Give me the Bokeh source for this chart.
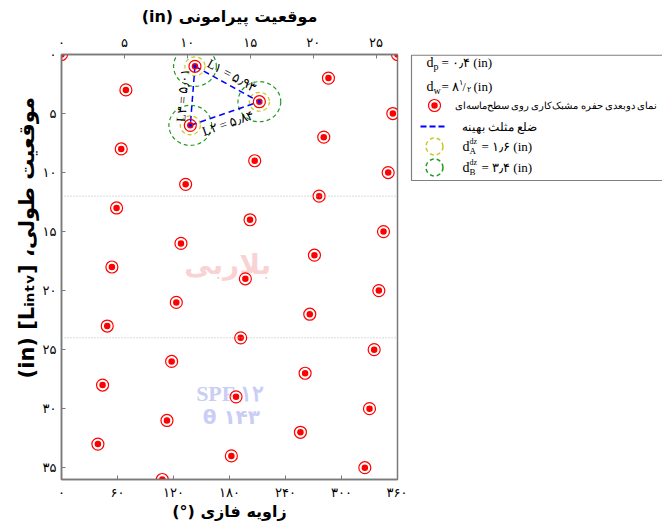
import math
from bokeh.plotting import figure
from bokeh.models import Range1d, LinearAxis, FixedTicker, Span
from bokeh.layouts import row
from bokeh.core.properties import value
from bokeh.embed import file_html
from bokeh.resources import INLINE

# ---------------- data ----------------
shot_angle = [0, 143, 286, 69, 212, 355, 138, 281, 64, 207, 350, 133, 276, 59, 202,
              345, 128, 271, 54, 197, 340, 123, 266, 49, 192, 335, 118, 261, 44, 187,
              330, 113, 256, 39, 182, 325, 108]
shot_depth = [0, 1, 2, 3, 4, 5, 6, 7, 8, 9, 10, 11, 12, 13, 14, 15, 16, 17, 18, 19,
              20, 21, 22, 23, 24, 25, 26, 27, 28, 29, 30, 31, 32, 33, 34, 35, 36]
wrap_angle = [360]
wrap_depth = [0]

tri_angle = [143, 212, 138]
tri_depth = [1, 4, 6]
side_from = [0, 2, 2]
side_to = [1, 1, 0]
side_labels = ["L۱ = ۵٫۹۳", "L۲ = ۵٫۸۴", "L۳ = ۵٫۰۱"]

section_depth = [12, 24]
well_diam = 8.5      # in
d_A = 1.6            # in
d_B = 3.4            # in

x_ticks = [0, 60, 120, 180, 240, 300, 360]
x_tick_labels = ["۰", "۶۰", "۱۲۰", "۱۸۰", "۲۴۰", "۳۰۰", "۳۶۰"]
top_ticks = [0, 5, 10, 15, 20, 25]
top_tick_labels = ["۰", "۵", "۱۰", "۱۵", "۲۰", "۲۵"]
y_ticks = [0, 5, 10, 15, 20, 25, 30, 35]
y_tick_labels = ["۰", "۵", "۱۰", "۱۵", "۲۰", "۲۵", "۳۰", "۳۵"]

# ---------------- layout constants ----------------
FW, FH = 336, 425
X_MAX, Y_MAX = 360, 36
B_TOP, B_BOT, B_LEFT, B_RIGHT = 54, 42, 61, 10
perimeter = math.pi * well_diam

p = figure(frame_width=FW, frame_height=FH,
           x_range=Range1d(0, X_MAX), y_range=Range1d(Y_MAX, 0),
           output_backend="svg", toolbar_location=None,
           min_border_left=B_LEFT, min_border_right=B_RIGHT,
           min_border_top=B_TOP, min_border_bottom=B_BOT,
           background_fill_color="white", border_fill_color="white")
p.grid.visible = False
p.outline_line_color = "#7a7a7a"
p.outline_line_width = 1.5
p.extra_x_ranges = {"perim": Range1d(0, perimeter)}

top = LinearAxis(x_range_name="perim")
p.add_layout(top, "above")

FONT_T = value("DejaVu Sans")


def style_axis(ax, ticks, labels, title, lab_standoff, title_standoff, title_size):
    ax.ticker = FixedTicker(ticks=ticks)
    ax.major_label_overrides = {t: l for t, l in zip(ticks, labels)}
    ax.minor_tick_line_color = None
    ax.major_tick_in = 4
    ax.major_tick_out = 0
    ax.major_tick_line_color = "#7a7a7a"
    ax.axis_line_color = "#7a7a7a"
    ax.axis_line_width = 1.5
    ax.major_label_text_font = "DejaVu Sans"
    ax.major_label_text_font_size = "13px"
    ax.major_label_text_color = "black"
    ax.major_label_standoff = lab_standoff
    ax.axis_label = title
    ax.axis_label_text_font = "DejaVu Sans"
    ax.axis_label_text_font_size = title_size
    ax.axis_label_text_font_style = "bold"
    ax.axis_label_text_color = "black"
    ax.axis_label_standoff = title_standoff


style_axis(p.below[0], x_ticks, x_tick_labels, "(°) زاویه فازی", 5, -1, "16px")
style_axis(top, top_ticks, top_tick_labels, "(in) موقعیت پیرامونی", 5, 6, "16px")
style_axis(p.left[0], y_ticks, y_tick_labels,
           "\u00a0" * 8 + "(in) [Lᵢₙₜᵥ] ،موقعیت طولی", 5, 1, "21px")

# section lines
for d in section_depth:
    p.add_layout(Span(location=d, dimension="width", line_color="#b5b5b5",
                      line_dash="1 2", line_width=1))

# watermarks
p.text(x=[178], y=[17.8], text=["بلاربی"], text_font=FONT_T, text_font_style="bold",
       text_font_size="28px", text_color="#f9d3d3", text_align="center", text_baseline="middle")
p.text(x=[181], y=[28.7], text=["SPF ۱۲"], text_font=value("Liberation Serif"), text_font_style="bold",
       text_font_size="22px", text_color="#cacdf5", text_align="center", text_baseline="middle")
p.text(x=[182], y=[30.7], text=["θ ۱۴۳"], text_font=FONT_T, text_font_style="bold",
       text_font_size="20px", text_color="#cacdf5", text_align="center", text_baseline="middle")

# circles around triangle vertices (drawn in perimeter inches)
tri_perim = [a / 360 * perimeter for a in tri_angle]
p.ellipse(x=tri_perim, y=tri_depth, width=d_B, height=d_B, x_range_name="perim",
          fill_color=None, line_color="#229a22", line_dash="4 3", line_width=1.2)
p.ellipse(x=tri_perim, y=tri_depth, width=d_A, height=d_A, x_range_name="perim",
          fill_color=None, line_color="#c8c820", line_dash="4 3", line_width=1.2)

# triangle
p.line(x=tri_angle + [tri_angle[0]], y=tri_depth + [tri_depth[0]], line_color="#0000ff",
       line_dash="6 4", line_width=1.5)

# perforation markers
all_a = shot_angle + wrap_angle
all_d = shot_depth + wrap_depth
p.scatter(x=all_a, y=all_d, size=12, fill_color=None, line_color="#ff0000", line_width=1.2)
p.scatter(x=all_a, y=all_d, size=6.5, fill_color="#ff0000", line_color=None)
p.scatter(x=tri_angle, y=tri_depth, size=3.5, fill_color="#0000ff", line_color=None)

# side labels
sx = FW / X_MAX
sy = FH / Y_MAX
cx = sum(tri_angle) / 3
cz = sum(tri_depth) / 3
lx, ly, la, xo, yo = [], [], [], [], []
for i, j in zip(side_from, side_to):
    a0, z0, a1, z1 = tri_angle[i], tri_depth[i], tri_angle[j], tri_depth[j]
    dx = (a1 - a0) * sx
    dy = (z1 - z0) * sy
    L = math.hypot(dx, dy)
    nx, ny = dy / L, -dx / L
    mx, mz = (a0 + a1) / 2, (z0 + z1) / 2
    if nx * (mx - cx) * sx + ny * (mz - cz) * sy < 0:
        nx, ny = -nx, -ny
    lx.append(mx)
    ly.append(mz)
    la.append(math.atan2(-dy, dx))
    xo.append(nx * 10)
    yo.append(ny * 10)
p.text(x=lx, y=ly, text=side_labels, angle=la, x_offset=xo, y_offset=yo,
       text_font=value("Liberation Serif"), text_font_size="13px", text_color="black",
       text_align="center", text_baseline="middle")

# ---------------- legend panel ----------------
# its frame is aligned with the plot frame; coordinates below are page pixels
LW = 255
X0 = 1 + B_LEFT + FW + B_RIGHT          # page x where the legend panel starts
Y0 = 1 + B_TOP                          # page y of the frame top
leg = figure(frame_width=LW, frame_height=FH,
             x_range=Range1d(X0, X0 + LW), y_range=Range1d(Y0 + FH, Y0),
             output_backend="svg", toolbar_location=None,
             min_border_left=0, min_border_right=0,
             min_border_top=B_TOP, min_border_bottom=B_BOT,
             x_axis_type=None, y_axis_type=None, outline_line_color=None,
             background_fill_color="white", border_fill_color="white")
leg.grid.visible = False
leg.quad(left=[X0 + 4], right=[X0 + 290], top=[Y0 + 0.7], bottom=[Y0 + 126],
         fill_color="white", line_color="#808080", line_width=1.2)

SER = value("Liberation Serif")
rows_y = [63, 87, 106, 127, 147, 168]


def t(x, y, s, size="13px", font=SER):
    leg.text(x=[X0 + x], y=[y], text=[s], text_font=font, text_font_size=size,
             text_color="black", text_align="left", text_baseline="middle")


# row 1: d_p
t(19, rows_y[0], "d", "14px")
t(26, rows_y[0] + 4, "p", "10px")
t(34, rows_y[0], "= ۰٫۴  (in)")
# row 2: d_w
t(19, rows_y[1], "d", "14px")
t(26, rows_y[1] + 4, "w", "10px")
t(34, rows_y[1], "= ۸")
t(51, rows_y[1] - 4, "۱", "8px")
t(55, rows_y[1], "/", "12px")
t(59, rows_y[1] + 3, "۲", "8px")
t(66, rows_y[1], "(in)")
# row 3: marker
leg.scatter(x=[X0 + 27], y=[rows_y[2]], size=12, fill_color=None, line_color="#ff0000", line_width=1.2)
leg.scatter(x=[X0 + 27], y=[rows_y[2]], size=6.5, fill_color="#ff0000", line_color=None)
t(47, rows_y[2], "نمای دوبعدی حفره مشبک‌کاری روی سطح‌ماسه‌ای", "9.5px")
# row 4: dashed line
leg.line(x=[X0 + 13, X0 + 40], y=[rows_y[3], rows_y[3]], line_color="#0000ff",
         line_dash="6 3", line_width=2)
t(54, rows_y[3], "ضلع مثلث بهینه", "12px")
# row 5/6: circles
leg.scatter(x=[X0 + 27], y=[rows_y[4]], size=17, fill_color=None, line_color="#c8c820",
            line_dash="4 3", line_width=1.5)
leg.scatter(x=[X0 + 27], y=[rows_y[5]], size=17, fill_color=None, line_color="#229a22",
            line_dash="4 3", line_width=1.5)
for ry, sub, val in [(rows_y[4], "A", "= ۱٫۶  (in)"), (rows_y[5], "B", "= ۳٫۴  (in)")]:
    t(55, ry, "d", "14px")
    t(62, ry - 5, "dz", "8px")
    t(62, ry + 4, sub, "9px")
    t(74, ry, val)

layout = row(p, leg)
open("out.html", "w").write(file_html(layout, INLINE))
